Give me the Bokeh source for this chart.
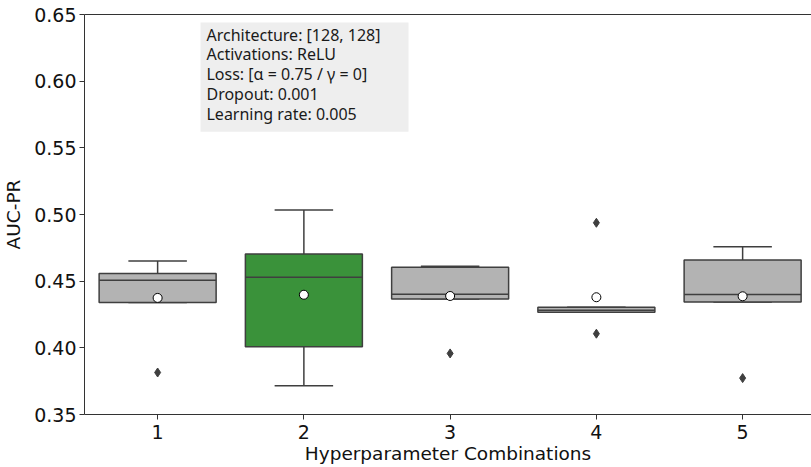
import numpy as np
from bokeh.plotting import figure
from bokeh.models import (ColumnDataSource, FixedTicker, LinearAxis, Range1d,
                          BoxAnnotation, Label, CustomJSTickFormatter)
from bokeh.embed import file_html
from bokeh.resources import INLINE

# AUC-PR scores of the five cross-validation folds per hyperparameter combination
combo_labels = ["1", "2", "3", "4", "5"]
scores_1 = [0.3815, 0.4340, 0.4507, 0.4558, 0.4652]
scores_2 = [0.3715, 0.4009, 0.4530, 0.4703, 0.5034]
scores_3 = [0.3958, 0.4367, 0.4402, 0.4605, 0.4612]
scores_4 = [0.4106, 0.4267, 0.4282, 0.4304, 0.4938]
scores_5 = [0.3773, 0.4344, 0.4400, 0.4658, 0.4758]
highlight = "2"

info_lines = [
    "Architecture: [128, 128]",
    "Activations: ReLU",
    "Loss: [\u03b1 = 0.75 / \u03b3 = 0]",
    "Dropout: 0.001",
    "Learning rate: 0.005",
]

all_scores = [scores_1, scores_2, scores_3, scores_4, scores_5]

GRAY = "#b3b3b3"
GREEN = "#3a923a"
EDGE = "#3f3f3f"
TICK_FONT = "DejaVu Sans"
BOX_FONT = "Noto Sans"

# box-plot statistics (1.5 IQR whiskers)
xs, q1s, q3s, meds, los, his, means, fills = [], [], [], [], [], [], [], []
out_x, out_y = [], []
for i, vals in enumerate(all_scores):
    v = np.asarray(vals)
    q1, med, q3 = np.percentile(v, [25, 50, 75])
    iqr = q3 - q1
    inside = v[(v >= q1 - 1.5 * iqr) & (v <= q3 + 1.5 * iqr)]
    xs.append(i)
    q1s.append(q1); q3s.append(q3); meds.append(med)
    los.append(inside.min()); his.append(inside.max())
    means.append(v.mean())
    fills.append(GREEN if combo_labels[i] == highlight else GRAY)
    for o in v[(v < q1 - 1.5 * iqr) | (v > q3 + 1.5 * iqr)]:
        out_x.append(i); out_y.append(o)

src = ColumnDataSource(dict(
    x=xs, q1=q1s, q3=q3s, med=meds, lo=los, hi=his, mean=means, fill=fills,
    xl=[x - 0.4 for x in xs], xr=[x + 0.4 for x in xs],
    cl=[x - 0.2 for x in xs], cr=[x + 0.2 for x in xs],
))
out_src = ColumnDataSource(dict(x=out_x, y=out_y))

W, H = 811, 467
LEFT, TOP, BOTTOM = 84, 14, 53
px_per_cat = 146.25
x_end = -0.5 + (W - LEFT) / px_per_cat

p = figure(width=W, height=H, output_backend="svg", toolbar_location=None,
           x_range=Range1d(-0.5, x_end), y_range=Range1d(0.35, 0.65),
           min_border_left=LEFT, min_border_right=0,
           min_border_top=TOP, min_border_bottom=BOTTOM)
p.outline_line_color = None
p.xgrid.visible = False
p.ygrid.visible = False
p.background_fill_color = "white"
p.border_fill_color = "white"

# whiskers and caps
p.segment(x0="x", y0="q3", x1="x", y1="hi", source=src, line_color=EDGE, line_width=1.5)
p.segment(x0="x", y0="q1", x1="x", y1="lo", source=src, line_color=EDGE, line_width=1.5)
p.segment(x0="cl", y0="hi", x1="cr", y1="hi", source=src, line_color=EDGE, line_width=1.5)
p.segment(x0="cl", y0="lo", x1="cr", y1="lo", source=src, line_color=EDGE, line_width=1.5)
# boxes
p.vbar(x="x", width=0.8, bottom="q1", top="q3", source=src,
       fill_color="fill", line_color=EDGE, line_width=1.5)
# medians
p.segment(x0="xl", y0="med", x1="xr", y1="med", source=src, line_color=EDGE, line_width=1.5)
# outliers
p.scatter(x="x", y="y", source=out_src, marker="diamond", size=9,
          fill_color=EDGE, line_color=EDGE)
# means
p.scatter(x="x", y="mean", source=src, marker="circle", size=9,
          fill_color="white", line_color="black", line_width=1)

# info box
p.add_layout(BoxAnnotation(left=0.2932, right=1.7154, bottom=0.5620, top=0.6440,
                           fill_color="#eeeeee", fill_alpha=1.0, line_color=None,
                           level="underlay"))
y0 = 0.6350
dy = 19.8 * 0.3 / 399
for k, line in enumerate(info_lines):
    p.add_layout(Label(x=0.334, y=y0 - k * dy, text=line, text_font=BOX_FONT,
                       text_font_size="16px", text_color="#1a1a1a",
                       text_baseline="middle", text_align="left"))

# axes
AX = "#333333"
p.xaxis.ticker = FixedTicker(ticks=xs)
p.xaxis.major_label_overrides = {i: lab for i, lab in enumerate(combo_labels)}
p.xaxis.axis_label = "Hyperparameter Combinations"
p.yaxis.axis_label = "AUC-PR"
p.yaxis.ticker = FixedTicker(ticks=[0.35, 0.40, 0.45, 0.50, 0.55, 0.60, 0.65])
p.yaxis.formatter = CustomJSTickFormatter(code="return tick.toFixed(2);")
for ax in (p.xaxis[0], p.yaxis[0]):
    ax.axis_line_color = AX
    ax.axis_line_width = 1
    ax.major_tick_line_color = AX
    ax.major_tick_out = 5
    ax.major_tick_in = 0
    ax.minor_tick_line_color = None
    ax.major_label_text_font = TICK_FONT
    ax.major_label_text_font_size = "19px"
    ax.major_label_text_color = "#111111"
    ax.axis_label_text_font = TICK_FONT
    ax.axis_label_text_font_size = "18.5px"
    ax.axis_label_text_font_style = "normal"
    ax.axis_label_text_color = "#111111"
    ax.major_label_standoff = 3
p.xaxis.major_label_standoff = 5
p.xaxis.axis_label_standoff = 1
p.yaxis.axis_label_standoff = 7

# top spine
top = LinearAxis(major_tick_line_color=None, minor_tick_line_color=None,
                 major_label_text_font_size="0px", axis_line_color=AX,
                 ticker=FixedTicker(ticks=[]))
p.add_layout(top, "above")

open("out.html", "w").write(file_html(p, INLINE))
